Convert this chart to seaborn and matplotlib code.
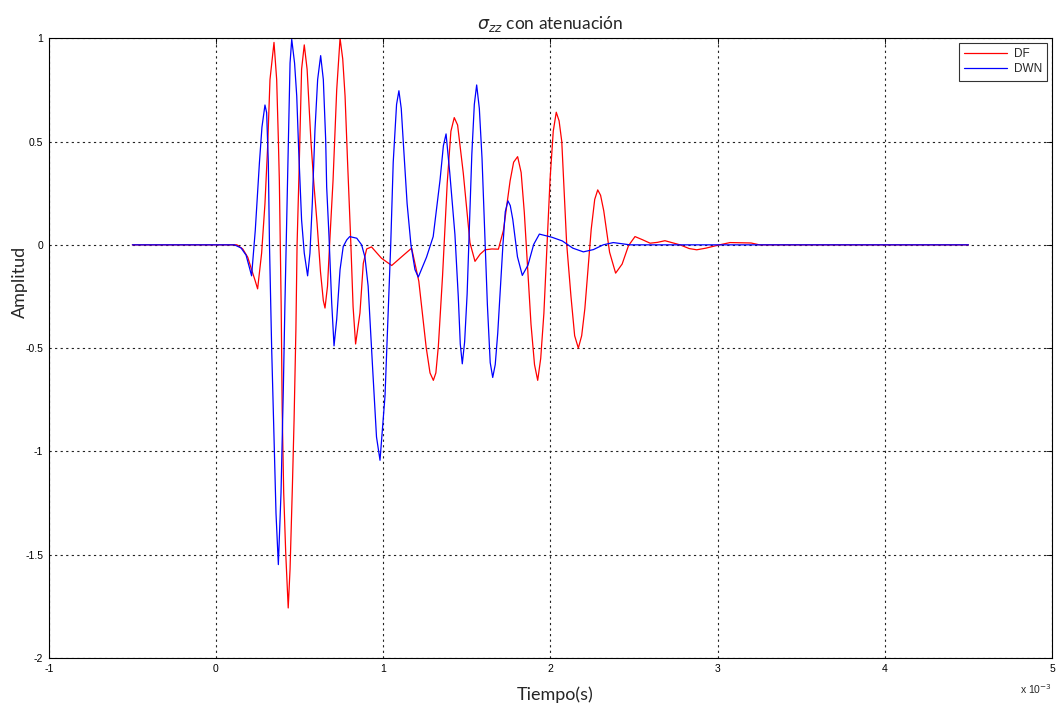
import numpy as np
import pandas as pd
import matplotlib
matplotlib.use("Agg")
import matplotlib.pyplot as plt
import seaborn as sns

# Time axis in milliseconds (the axis shows x 10^-3 s)
t_df = [-0.5, 0.125, 0.16, 0.19, 0.213, 0.233, 0.249, 0.273, 0.293, 0.309, 0.323, 0.347,
        0.363, 0.373, 0.379, 0.390, 0.396, 0.405, 0.417, 0.432, 0.443, 0.457, 0.467, 0.478,
        0.485, 0.498, 0.512, 0.528, 0.545, 0.568, 0.585, 0.605, 0.625, 0.642, 0.652, 0.667,
        0.682, 0.700, 0.722, 0.742, 0.758, 0.772, 0.787, 0.805, 0.820, 0.835, 0.861, 0.881,
        0.901, 0.930, 0.990, 1.051, 1.110, 1.170, 1.213, 1.257, 1.280, 1.300, 1.315, 1.330,
        1.355, 1.383, 1.405, 1.425, 1.445, 1.479, 1.519, 1.549, 1.580, 1.609, 1.650, 1.689,
        1.719, 1.759, 1.780, 1.804, 1.825, 1.844, 1.884, 1.905, 1.924, 1.942, 1.961, 1.998,
        2.017, 2.035, 2.052, 2.068, 2.097, 2.123, 2.145, 2.167, 2.187, 2.206, 2.244, 2.265,
        2.283, 2.300, 2.319, 2.354, 2.390, 2.429, 2.467, 2.506, 2.550, 2.596, 2.640, 2.685,
        2.730, 2.775, 2.830, 2.875, 2.930, 2.995, 3.074, 3.200, 3.250, 4.500]
amp_df = [0.0, 0.0, -0.02, -0.06, -0.12, -0.17, -0.213, -0.04, 0.20, 0.476, 0.80, 0.98,
          0.80, 0.51, 0.31, -0.30, -0.80, -1.20, -1.49, -1.758, -1.57, -1.17, -0.85, -0.41,
          0.0, 0.39, 0.85, 0.968, 0.85, 0.50, 0.30, 0.10, -0.13, -0.27, -0.306, -0.20,
          0.04, 0.31, 0.75, 1.0, 0.90, 0.72, 0.40, 0.04, -0.30, -0.48, -0.33, -0.09,
          -0.02, -0.01, -0.065, -0.10, -0.058, -0.016, -0.176, -0.496, -0.62, -0.656, -0.62, -0.49,
          -0.15, 0.30, 0.55, 0.616, 0.58, 0.347, 0.01, -0.08, -0.045, -0.024, -0.02, -0.021,
          0.07, 0.31, 0.40, 0.427, 0.35, 0.156, -0.385, -0.58, -0.656, -0.55, -0.332, 0.318,
          0.55, 0.642, 0.60, 0.50, 0.008, -0.25, -0.44, -0.50, -0.44, -0.309, 0.075, 0.22,
          0.266, 0.24, 0.165, -0.036, -0.137, -0.093, -0.004, 0.04, 0.025, 0.008, 0.012, 0.02,
          0.01, 0.0, -0.018, -0.024, -0.016, -0.003, 0.011, 0.009, 0.0, 0.0]

t_dwn = [-0.5, 0.11, 0.15, 0.18, 0.20, 0.213, 0.235, 0.26, 0.275, 0.293, 0.303, 0.313,
         0.32, 0.333, 0.347, 0.359, 0.373, 0.389, 0.403, 0.412, 0.428, 0.443, 0.453, 0.47,
         0.483, 0.495, 0.512, 0.528, 0.548, 0.562, 0.576, 0.592, 0.608, 0.626, 0.642, 0.656,
         0.662, 0.676, 0.692, 0.706, 0.722, 0.742, 0.761, 0.782, 0.80, 0.842, 0.871, 0.891,
         0.91, 0.937, 0.96, 0.981, 1.011, 1.031, 1.045, 1.06, 1.08, 1.094, 1.108, 1.12,
         1.143, 1.166, 1.19, 1.21, 1.259, 1.299, 1.34, 1.36, 1.376, 1.398, 1.429, 1.449,
         1.461, 1.473, 1.487, 1.502, 1.530, 1.545, 1.559, 1.575, 1.591, 1.623, 1.64, 1.655,
         1.67, 1.685, 1.716, 1.73, 1.746, 1.76, 1.775, 1.803, 1.832, 1.866, 1.900, 1.934,
         2.008, 2.071, 2.134, 2.197, 2.257, 2.316, 2.376, 2.476, 4.5]
amp_dwn = [0.0, 0.0, -0.015, -0.05, -0.11, -0.15, 0.07, 0.40, 0.57, 0.677, 0.64, 0.40,
           0.0, -0.50, -0.93, -1.30, -1.548, -1.20, -0.69, -0.30, 0.31, 0.88, 0.995, 0.88,
           0.72, 0.45, 0.12, -0.04, -0.15, -0.04, 0.20, 0.556, 0.80, 0.916, 0.80, 0.51,
           0.28, 0.04, -0.28, -0.489, -0.36, -0.12, -0.008, 0.024, 0.04, 0.032, 0.0, -0.06,
           -0.20, -0.60, -0.93, -1.043, -0.73, -0.30, 0.0, 0.40, 0.68, 0.746, 0.66, 0.50,
           0.20, 0.0, -0.12, -0.156, -0.06, 0.04, 0.314, 0.48, 0.537, 0.35, 0.05, -0.25,
           -0.48, -0.576, -0.47, -0.238, 0.437, 0.68, 0.774, 0.66, 0.420, -0.288, -0.57, -0.642,
           -0.58, -0.428, -0.001, 0.16, 0.213, 0.19, 0.123, -0.058, -0.148, -0.098, 0.002, 0.052,
           0.037, 0.019, -0.016, -0.034, -0.023, 0.0, 0.011, 0.0, 0.0]

series_names = ["DF", "DWN"]
series_colors = ["#ff0000", "#0000ff"]
x_ticks = [-1, 0, 1, 2, 3, 4, 5]
y_ticks = [1, 0.5, 0, -0.5, -1, -1.5, -2]
y_tick_labels = ["1", "0.5", "0", "-0.5", "-1", "-1.5", "-2"]

df = pd.concat([
    pd.DataFrame({"t": t_df, "amp": amp_df, "serie": series_names[0]}),
    pd.DataFrame({"t": t_dwn, "amp": amp_dwn, "serie": series_names[1]}),
], ignore_index=True)

sns.set_theme(style="white")
plt.rcParams["font.family"] = ["Liberation Sans", "DejaVu Sans"]
plt.rcParams["axes.unicode_minus"] = False

fig = plt.figure(figsize=(10.6, 7.09), dpi=100)
ax = fig.add_axes([0.046, 0.072, 0.9465, 0.874])

sns.lineplot(data=df, x="t", y="amp", hue="serie", hue_order=series_names,
             palette=series_colors, estimator=None, sort=False, linewidth=0.9,
             ax=ax)

ax.set_xlim(-1, 5)
ax.set_ylim(-2, 1)
ax.set_xticks(x_ticks)
ax.set_xticklabels([str(v) for v in x_ticks])
ax.set_yticks(y_ticks)
ax.set_yticklabels(y_tick_labels)

ax.grid(True, color="#222222", linestyle=(0, (2, 3)), linewidth=0.8)
for sp in ax.spines.values():
    sp.set_color("black")
    sp.set_linewidth(0.8)
ax.tick_params(axis="both", direction="in", length=4, width=0.6, labelsize=7.5,
               colors="black", top=True, right=True, pad=4)

ax.set_title(r"$\sigma_{zz}$ con atenuación", fontsize=12.5, family="Lato", pad=7)
ax.set_xlabel("Tiempo(s)", fontsize=13, family="Lato")
ax.set_ylabel("Amplitud", fontsize=13, family="Lato")
ax.xaxis.set_label_coords(0.505, -0.046)
ax.yaxis.set_label_coords(-0.021, 0.606)
ax.text(1.0, -0.05, r"x 10$^{-3}$", transform=ax.transAxes, fontsize=7.5,
        ha="right", va="center")

leg = ax.legend(loc="upper right", fontsize=8.5, frameon=True, fancybox=False,
                borderaxespad=0.4, handlelength=3.6, labelspacing=0.25,
                borderpad=0.45, handletextpad=0.6)
leg.get_frame().set_edgecolor("black")
leg.get_frame().set_linewidth(0.8)
leg.set_title(None)

fig.savefig("out.png", dpi=100, facecolor="white")
